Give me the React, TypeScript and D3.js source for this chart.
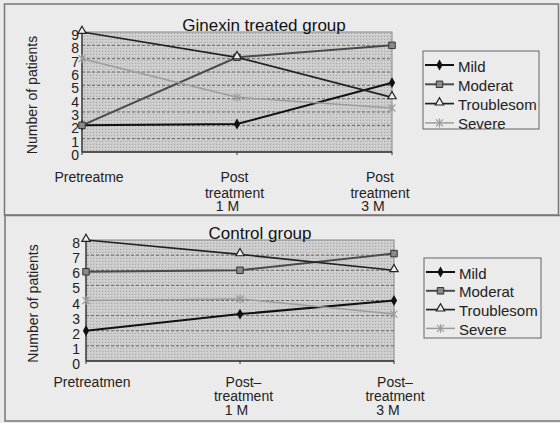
import * as d3 from "d3";

const seriesNames = ["Mild", "Moderat", "Troublesom", "Severe"];

// Ginexin treated group
const ginexinMild = [2, 2.1, 5.2];
const ginexinModerat = [2, 7.1, 8];
const ginexinTroublesom = [9, 7.1, 4.1];
const ginexinSevere = [7, 4.1, 3.3];

// Control group
const controlMild = [2, 3.1, 4];
const controlModerat = [5.9, 6, 7.1];
const controlTroublesom = [8, 7.05, 6];
const controlSevere = [4, 4.1, 3.1];

const categories = ["pre", "m1", "m3"];
const ginexinLabels = [["Pretreatme"], ["Post", "treatment", "1 M"], ["Post", "treatment", "3 M"]];
const controlLabels = [["Pretreatmen"], ["Post\u2013", "treatment", "1 M"], ["Post\u2013", "treatment", "3 M"]];
const ginexinTicks = d3.range(0, 10);
const controlTicks = d3.range(0, 9);

const FONT = "'Liberation Sans', Arial, sans-serif";

const styles = [
  { color: "#111", width: 2, marker: "diamond" },
  { color: "#4a4a4a", width: 2, marker: "square" },
  { color: "#222", width: 1.7, marker: "triangle" },
  { color: "#9c9c9c", width: 1.5, marker: "asterisk" },
];

function Marker({ kind, x, y, color }: { kind: string; x: number; y: number; color: string }) {
  if (kind === "diamond") {
    return <path d={d3.symbol(d3.symbolDiamond, 34)()!} transform={`translate(${x},${y})`} fill="#111" />;
  }
  if (kind === "square") {
    return <path d={d3.symbol(d3.symbolSquare, 42)()!} transform={`translate(${x},${y})`} fill="#8a8a8a" stroke="#333" strokeWidth={1} />;
  }
  if (kind === "triangle") {
    return <path d={d3.symbol(d3.symbolTriangle, 30)()!} transform={`translate(${x},${y - 1})`} fill="#eee" stroke="#222" strokeWidth={1.2} />;
  }
  const r = 3.5;
  return (
    <path
      d={`M${x - r},${y - r}L${x + r},${y + r}M${x - r},${y + r}L${x + r},${y - r}M${x},${y - r - 1}L${x},${y + r + 1}`}
      stroke={color}
      strokeWidth={1.2}
      fill="none"
    />
  );
}

interface PanelProps {
  title: string;
  titleX: number;
  titleY: number;
  data: number[][];
  ticks: number[];
  labels: string[][];
  plot: { x0: number; x1: number; y0: number; y1: number };
  labelRange: [number, number];
  labelRows: number[];
  tickRight: number;
  yTitleX: number;
  legend: { x: number; y: number; w: number; h: number; first: number; step: number };
}

function Panel(p: PanelProps) {
  const { plot } = p;
  const yMax = d3.max(p.ticks)!;
  const x = d3.scalePoint<string>().domain(categories).range([plot.x0, plot.x1]);
  const y = d3.scaleLinear().domain([0, yMax]).range([plot.y1, plot.y0]);
  const xl = d3.scalePoint<string>().domain(categories).range(p.labelRange);
  const line = d3
    .line<number>()
    .x((_, i) => x(categories[i])!)
    .y((d) => y(d));

  return (
    <g fontFamily={FONT}>
      <rect
        x={plot.x0}
        y={plot.y0}
        width={plot.x1 - plot.x0}
        height={plot.y1 - plot.y0}
        fill="url(#dots)"
        stroke="#8a8a8a"
        strokeWidth={1}
      />
      {p.ticks
        .filter((t) => t > 0 && t < yMax)
        .map((t) => (
          <line
            key={t}
            x1={plot.x0}
            x2={plot.x1}
            y1={y(t)}
            y2={y(t)}
            stroke="#666"
            strokeWidth={1}
            strokeDasharray="3,2"
          />
        ))}
      <line x1={plot.x0} x2={plot.x0} y1={plot.y0} y2={plot.y1} stroke="#333" strokeWidth={1.3} />
      <line x1={plot.x0} x2={plot.x1} y1={plot.y1} y2={plot.y1} stroke="#333" strokeWidth={1.3} />
      {categories.map((c) => (
        <line key={c} x1={x(c)} x2={x(c)} y1={plot.y1} y2={plot.y1 + 3} stroke="#333" />
      ))}
      {p.ticks.map((t) => (
        <text key={t} x={p.tickRight} y={y(t) + 3} dominantBaseline="central" textAnchor="end" fontSize={14} fill="#222">
          {t}
        </text>
      ))}
      <text
        transform={`translate(${p.yTitleX},${(plot.y0 + plot.y1) / 2 + 3}) rotate(-90)`}
        textAnchor="middle"
        dominantBaseline="central"
        fontSize={14}
        fill="#222"
      >
        Number of patients
      </text>
      {p.labels.map((rows, i) => (
        <g key={i}>
          {rows.map((r, j) => (
            <text
              key={j}
              x={xl(categories[i])! + (j === 2 ? -7 : 0)}
              y={p.labelRows[j]}
              textAnchor="middle"
              dominantBaseline="central"
              fontSize={14}
              fill="#222"
            >
              {r}
            </text>
          ))}
        </g>
      ))}
      {p.data.map((vals, si) => (
        <path key={si} d={line(vals)!} fill="none" stroke={styles[si].color} strokeWidth={styles[si].width} />
      ))}
      {p.data.map((vals, si) =>
        vals.map((v, i) => (
          <Marker key={`${si}-${i}`} kind={styles[si].marker} x={x(categories[i])!} y={y(v)} color={styles[si].color} />
        ))
      )}
      <text x={p.titleX} y={p.titleY} textAnchor="middle" dominantBaseline="central" fontSize={17} fill="#111">
        {p.title}
      </text>
      <rect x={p.legend.x} y={p.legend.y} width={p.legend.w} height={p.legend.h} fill="none" stroke="#666" strokeWidth={1} />
      {seriesNames.map((name, si) => {
        const ly = p.legend.first + si * p.legend.step;
        const lx = p.legend.x + 2;
        return (
          <g key={name}>
            <line x1={lx} x2={lx + 29} y1={ly} y2={ly} stroke={styles[si].color} strokeWidth={styles[si].width} />
            <Marker kind={styles[si].marker} x={lx + 14.5} y={ly} color={styles[si].color} />
            <text x={lx + 33} y={ly + 1} dominantBaseline="central" fontSize={15} fill="#222">
              {name}
            </text>
          </g>
        );
      })}
    </g>
  );
}

export default function App() {
  return (
    <svg
      width={560}
      height={423}
      style={{ position: "absolute", left: 0, top: 0, display: "block", background: "#ebebeb" }}
    >
      <defs>
        <pattern id="dots" width={3} height={3} patternUnits="userSpaceOnUse">
          <rect width={3} height={3} fill="#cbcbcb" />
          <rect width={1} height={1} fill="#a9a9a9" />
          <rect x={2} y={1} width={1} height={1} fill="#dadada" />
        </pattern>
      </defs>
      <rect x={4.5} y={4} width={554} height={211} fill="none" stroke="#777" strokeWidth={1.5} />
      <rect x={5} y={215.5} width={556} height={205.5} fill="none" stroke="#777" strokeWidth={1.5} />
      <Panel
        title="Ginexin treated group"
        titleX={264}
        titleY={25}
        data={[ginexinMild, ginexinModerat, ginexinTroublesom, ginexinSevere]}
        ticks={ginexinTicks}
        labels={ginexinLabels}
        plot={{ x0: 82, x1: 392, y0: 32, y1: 152 }}
        labelRange={[89, 380]}
        labelRows={[177, 193, 206]}
        tickRight={79}
        yTitleX={32}
        legend={{ x: 423, y: 51, w: 116, h: 78, first: 65, step: 19.3 }}
      />
      <Panel
        title="Control group"
        titleX={260}
        titleY={233}
        data={[controlMild, controlModerat, controlTroublesom, controlSevere]}
        ticks={controlTicks}
        labels={controlLabels}
        plot={{ x0: 86, x1: 394, y0: 240, y1: 361 }}
        labelRange={[92, 395]}
        labelRows={[382, 396, 410]}
        tickRight={80}
        yTitleX={33}
        legend={{ x: 424, y: 258, w: 117, h: 80, first: 272, step: 18.8 }}
      />
    </svg>
  );
}
